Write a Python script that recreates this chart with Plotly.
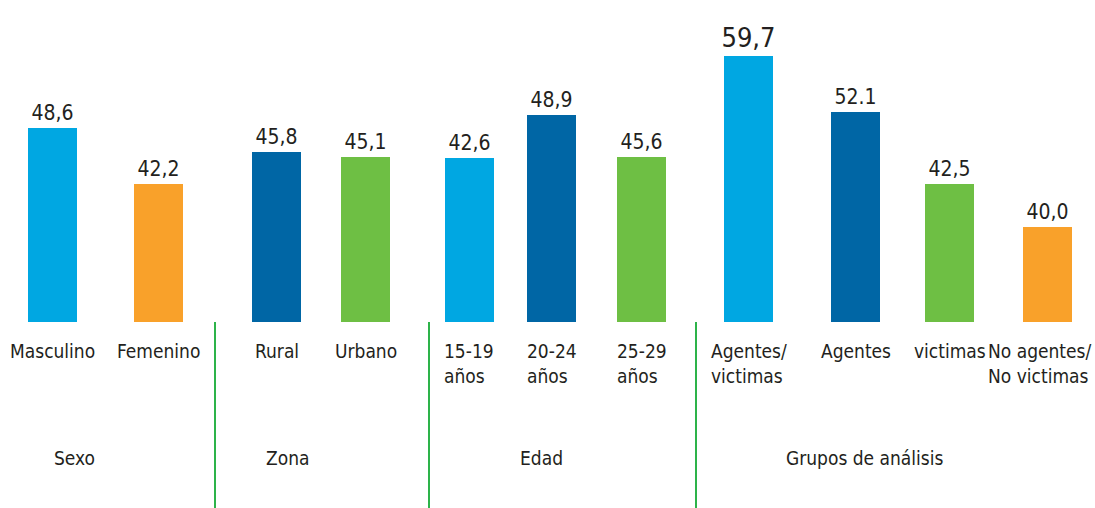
import plotly.graph_objects as go

# ---------------- data ----------------
categories = ["Masculino", "Femenino", "Rural", "Urbano",
              "15-19<br>años", "20-24<br>años", "25-29<br>años",
              "Agentes/<br>victimas", "Agentes", "victimas", "No agentes/<br>No victimas"]
values = [48.6, 42.2, 45.8, 45.1, 42.6, 48.9, 45.6, 59.7, 52.1, 42.5, 40.0]
value_labels = ["48,6", "42,2", "45,8", "45,1", "42,6", "48,9", "45,6", "59,7", "52.1", "42,5", "40,0"]
# bar lengths as drawn in the source picture (the printed values are not drawn to scale)
bar_lengths = [194, 138, 170, 165, 164, 207, 165, 266, 210, 138, 95]
bar_colors = ["light", "orange", "dark", "green", "light", "dark", "green",
              "light", "dark", "green", "orange"]
groups = ["Sexo", "Zona", "Edad", "Grupos de análisis"]

# ---------------- layout / style ----------------
W, H = 1095, 508
BASE = 322  # baseline pixel from top
palette = {"light": "#00a7e2", "dark": "#0066a5", "green": "#6ebf44", "orange": "#f9a12a"}
FONT = "DejaVu Sans Condensed, Liberation Sans Narrow, Arial Narrow, sans-serif"
TXT = "#231f20"
bar_x = [52.5, 158.5, 276.5, 365.5, 469, 551.5, 641.5, 748.5, 855.5, 949.5, 1047.5]
group_x = [74, 287, 541, 864]
sep_x = [215, 429, 696]

fig = go.Figure()
fig.add_trace(go.Bar(
    x=bar_x, y=bar_lengths, width=49,
    marker=dict(color=[palette[c] for c in bar_colors], line=dict(width=0)),
    text=value_labels, textposition="outside", constraintext="none",
    textfont=dict(family=FONT, color=TXT,
                  size=[27 if v == max(values) else 21 for v in values]),
    cliponaxis=False, hoverinfo="skip",
))

annotations = []
n = len(categories)
for i, (xc, lab) in enumerate(zip(bar_x, categories)):
    last = i == n - 1
    annotations.append(dict(x=(W - 2) if last else xc, y=-(338 - BASE), xref="x", yref="y",
                            text=lab, showarrow=False,
                            xanchor="right" if last else "center", yanchor="top", align="left",
                            font=dict(family=FONT, size=19, color=TXT)))
for gx, g in zip(group_x, groups):
    annotations.append(dict(x=gx, y=-(458 - BASE), xref="x", yref="y", text=g,
                            showarrow=False, xanchor="center", yanchor="middle",
                            font=dict(family=FONT, size=19, color=TXT)))

shapes = [dict(type="line", x0=sx, x1=sx, y0=0, y1=-(H - BASE), xref="x", yref="y",
               line=dict(color="#2db34a", width=2)) for sx in sep_x]

fig.update_layout(
    width=W, height=H, margin=dict(l=0, r=0, t=0, b=0),
    paper_bgcolor="white", plot_bgcolor="white", showlegend=False,
    xaxis=dict(range=[0, W], visible=False, fixedrange=True),
    yaxis=dict(range=[-(H - BASE), BASE], visible=False, fixedrange=True),
    annotations=annotations, shapes=shapes, bargap=0,
)

fig.write_html("out.html", config={"displayModeBar": False},
               post_script="document.body.style.margin='0';")
